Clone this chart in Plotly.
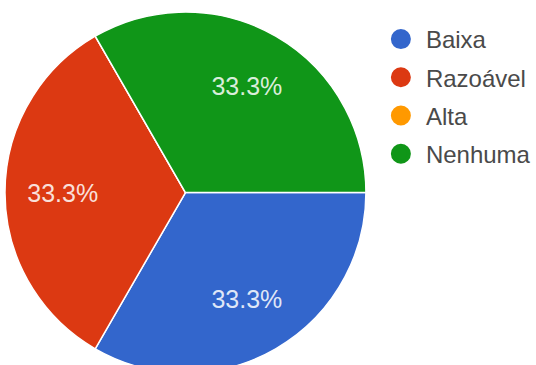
import plotly.graph_objects as go

# Response counts per category
labels = ["Baixa", "Razoável", "Alta", "Nenhuma"]
values = [1, 1, 0, 1]
colors = ["#3366cc", "#dc3912", "#ff9900", "#109618"]

W, H = 536, 375
FONT = "Arial, Liberation Sans, sans-serif"
pie_domain = dict(x=[5 / W, 368 / W], y=[1 - 373.5 / H, 1 - 11.5 / H])

fig = go.Figure()

# Filled slices
fig.add_trace(go.Pie(
    labels=labels,
    values=values,
    sort=False,
    direction="clockwise",
    rotation=90,
    marker=dict(colors=colors, line=dict(color="white", width=1.5)),
    textinfo="none",
    showlegend=False,
    hoverinfo="label+percent",
    domain=pie_domain,
))

# Percentage labels, set in a transparent ring so they sit further out
fig.add_trace(go.Pie(
    labels=labels,
    values=values,
    sort=False,
    direction="clockwise",
    rotation=90,
    hole=0.36,
    marker=dict(colors=["rgba(0,0,0,0)"] * len(values), line=dict(width=0)),
    texttemplate="%{percent:.1%}",
    textposition=["inside" if v > 0 else "none" for v in values],
    insidetextorientation="horizontal",
    insidetextfont=dict(family=FONT, size=25, color="rgba(255,255,255,0.85)"),
    showlegend=False,
    hoverinfo="skip",
    domain=pie_domain,
))

# Legend entries with round markers
for i, (lab, col) in enumerate(zip(labels, colors)):
    fig.add_trace(go.Scatter(
        x=[None], y=[None], mode="markers", name=lab,
        legendgroup=str(i),
        marker=dict(symbol="circle", size=16, color=col, line=dict(color=col, width=4)),
        showlegend=True,
    ))

fig.update_layout(
    width=W, height=H,
    margin=dict(l=0, r=0, t=0, b=0),
    paper_bgcolor="white",
    plot_bgcolor="white",
    xaxis=dict(visible=False),
    yaxis=dict(visible=False),
    legend=dict(
        x=378 / W, xanchor="left",
        y=1 - 17 / H, yanchor="top",
        font=dict(family=FONT, size=24, color="#4a4a4a"),
        traceorder="grouped",
        tracegroupgap=4,
        itemwidth=40,
        bgcolor="rgba(0,0,0,0)",
        itemclick=False,
    ),
    showlegend=True,
)

fig.write_html(
    "out.html",
    config={"displayModeBar": False},
    post_script="document.documentElement.style.overflow='hidden';document.body.style.overflow='hidden';document.body.style.margin='0';",
)
